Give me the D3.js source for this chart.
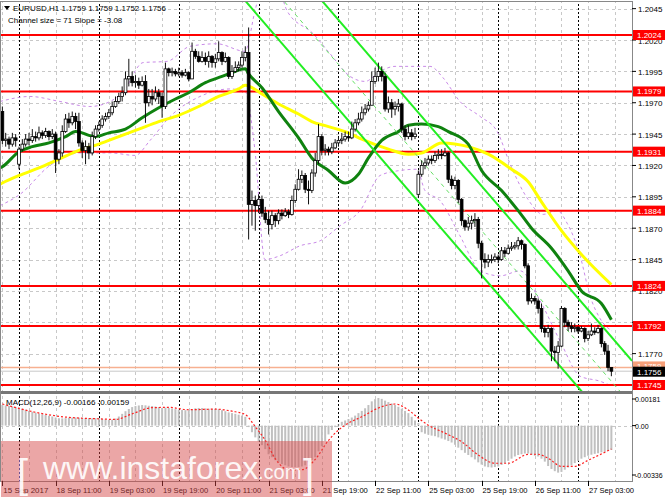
<!DOCTYPE html>
<html><head><meta charset="utf-8">
<script src="https://cdn.jsdelivr.net/npm/d3@7"></script>
<style>body{margin:0;background:#fff}svg{display:block}text{font-family:"Liberation Sans",Arial,sans-serif}</style>
</head><body><svg id="c" width="665" height="499"></svg>
<script>
// ---------- DATA ----------
const openP=[1.1963,1.1940,1.1941,1.1937,1.1942,1.1921,1.1933,1.1937,1.1941,1.1940,1.1943,1.1942,1.1946,1.1944,1.1947,1.1943,1.1945,1.1925,1.1930,1.1947,1.1957,1.1954,1.1959,1.1955,1.1938,1.1932,1.1935,1.1930,1.1943,1.1949,1.1952,1.1957,1.1959,1.1962,1.1967,1.1971,1.1975,1.1978,1.1989,1.1991,1.1986,1.1987,1.1984,1.1987,1.1970,1.1975,1.1973,1.1978,1.1975,1.1967,1.1997,1.1994,1.1995,1.1993,1.1994,1.1992,1.1994,1.1989,1.2011,1.2007,1.2003,1.2006,1.2003,1.2007,1.2002,1.2005,1.2010,1.2003,1.2006,1.1991,1.1995,1.1998,1.2000,1.2006,1.2010,1.1889,1.1892,1.1888,1.1893,1.1882,1.1877,1.1873,1.1880,1.1876,1.1882,1.1880,1.1883,1.1881,1.1892,1.1901,1.1909,1.1912,1.1901,1.1900,1.1914,1.1924,1.1943,1.1932,1.1933,1.1931,1.1934,1.1938,1.1940,1.1941,1.1943,1.1942,1.1949,1.1954,1.1957,1.1962,1.1965,1.1968,1.1987,1.1991,1.1995,1.1991,1.1965,1.1970,1.1965,1.1967,1.1969,1.1949,1.1943,1.1946,1.1943,1.1897,1.1913,1.1920,1.1922,1.1925,1.1924,1.1928,1.1929,1.1928,1.1930,1.1909,1.1904,1.1908,1.1893,1.1876,1.1871,1.1874,1.1876,1.1877,1.1858,1.1845,1.1843,1.1845,1.1845,1.1847,1.1845,1.1852,1.1850,1.1854,1.1855,1.1856,1.1860,1.1857,1.1840,1.1812,1.1814,1.1812,1.1806,1.1790,1.1787,1.1790,1.1772,1.1771,1.1776,1.1806,1.1795,1.1792,1.1790,1.1791,1.1788,1.1790,1.1782,1.1785,1.1788,1.1787,1.1790,1.1778,1.1772,1.1759];
const highP=[1.1967,1.1946,1.1943,1.1946,1.1945,1.1935,1.1941,1.1945,1.1946,1.1949,1.1947,1.1951,1.1948,1.1950,1.1948,1.1949,1.1947,1.1933,1.1952,1.1961,1.1962,1.1963,1.1962,1.1962,1.1940,1.1940,1.1938,1.1947,1.1952,1.1955,1.1960,1.1962,1.1965,1.1971,1.1975,1.1978,1.1983,1.1995,1.2005,1.1995,1.1992,1.1990,1.1991,1.1992,1.1981,1.1981,1.1983,1.1981,1.1978,1.2002,1.1998,1.1998,1.1997,1.1998,1.1996,1.1997,1.1995,1.2018,1.2013,1.2011,1.2011,1.2010,1.2011,1.2008,1.2009,1.2019,1.2011,1.2010,1.2007,1.2000,1.2003,1.2003,1.2011,1.2015,1.2030,1.1900,1.1896,1.1897,1.1896,1.1887,1.1884,1.1884,1.1882,1.1885,1.1885,1.1886,1.1885,1.1896,1.1905,1.1917,1.1916,1.1914,1.1908,1.1917,1.1930,1.1953,1.1945,1.1937,1.1935,1.1938,1.1941,1.1943,1.1946,1.1947,1.1947,1.1955,1.1957,1.1962,1.1967,1.1969,1.1971,1.1995,1.1998,1.2002,1.1999,1.1994,1.1975,1.1973,1.1971,1.1973,1.1970,1.1952,1.1952,1.1949,1.1950,1.1916,1.1924,1.1926,1.1928,1.1928,1.1931,1.1933,1.1933,1.1934,1.1931,1.1912,1.1911,1.1909,1.1894,1.1877,1.1879,1.1880,1.1882,1.1879,1.1860,1.1850,1.1849,1.1849,1.1850,1.1849,1.1855,1.1855,1.1857,1.1859,1.1859,1.1863,1.1861,1.1858,1.1842,1.1818,1.1816,1.1814,1.1810,1.1792,1.1793,1.1791,1.1776,1.1780,1.1808,1.1807,1.1797,1.1795,1.1794,1.1792,1.1792,1.1791,1.1788,1.1794,1.1791,1.1793,1.1791,1.1780,1.1777,1.1759];
const lowP=[1.1937,1.1935,1.1933,1.1935,1.1935,1.1917,1.1931,1.1935,1.1936,1.1938,1.1939,1.1940,1.1941,1.1942,1.1940,1.1941,1.1914,1.1921,1.1927,1.1946,1.1950,1.1952,1.1949,1.1935,1.1926,1.1921,1.1925,1.1928,1.1941,1.1947,1.1950,1.1955,1.1957,1.1960,1.1966,1.1969,1.1971,1.1976,1.1983,1.1983,1.1982,1.1981,1.1983,1.1954,1.1967,1.1968,1.1971,1.1969,1.1958,1.1965,1.1991,1.1991,1.1991,1.1991,1.1990,1.1991,1.1987,1.1989,1.2005,1.2002,1.2002,1.2000,1.1998,1.1998,1.1998,1.2003,1.2000,1.2002,1.1989,1.1989,1.1994,1.1995,1.1998,1.2003,1.1861,1.1872,1.1868,1.1882,1.1879,1.1874,1.1865,1.1869,1.1871,1.1873,1.1877,1.1879,1.1878,1.1880,1.1890,1.1900,1.1906,1.1898,1.1889,1.1898,1.1911,1.1921,1.1928,1.1928,1.1928,1.1929,1.1933,1.1935,1.1937,1.1939,1.1939,1.1941,1.1947,1.1952,1.1955,1.1960,1.1963,1.1968,1.1985,1.1987,1.1987,1.1963,1.1962,1.1958,1.1960,1.1963,1.1946,1.1940,1.1941,1.1940,1.1941,1.1894,1.1911,1.1917,1.1920,1.1921,1.1922,1.1925,1.1925,1.1927,1.1906,1.1901,1.1901,1.1890,1.1872,1.1868,1.1868,1.1869,1.1871,1.1854,1.1830,1.1838,1.1839,1.1842,1.1843,1.1842,1.1844,1.1847,1.1849,1.1852,1.1853,1.1853,1.1853,1.1838,1.1809,1.1810,1.1809,1.1802,1.1787,1.1783,1.1783,1.1764,1.1764,1.1758,1.1775,1.1791,1.1788,1.1787,1.1787,1.1786,1.1787,1.1779,1.1780,1.1784,1.1785,1.1786,1.1775,1.1769,1.1756,1.1752];
const closeP=[1.1940,1.1941,1.1937,1.1942,1.1940,1.1933,1.1937,1.1941,1.1940,1.1943,1.1942,1.1946,1.1944,1.1947,1.1943,1.1945,1.1925,1.1930,1.1947,1.1957,1.1954,1.1959,1.1955,1.1938,1.1932,1.1935,1.1930,1.1943,1.1949,1.1952,1.1957,1.1959,1.1962,1.1967,1.1971,1.1975,1.1978,1.1989,1.1991,1.1986,1.1987,1.1984,1.1987,1.1970,1.1975,1.1973,1.1978,1.1975,1.1967,1.1997,1.1994,1.1995,1.1993,1.1994,1.1992,1.1994,1.1989,1.2011,1.2007,1.2003,1.2006,1.2003,1.2007,1.2002,1.2005,1.2010,1.2003,1.2006,1.1991,1.1995,1.1998,1.2000,1.2006,1.2010,1.1889,1.1892,1.1888,1.1893,1.1882,1.1877,1.1873,1.1880,1.1876,1.1882,1.1880,1.1883,1.1881,1.1892,1.1901,1.1909,1.1912,1.1901,1.1900,1.1914,1.1924,1.1943,1.1932,1.1933,1.1931,1.1934,1.1938,1.1940,1.1941,1.1943,1.1942,1.1949,1.1954,1.1957,1.1962,1.1965,1.1968,1.1987,1.1991,1.1995,1.1991,1.1965,1.1970,1.1965,1.1967,1.1969,1.1949,1.1943,1.1946,1.1943,1.1945,1.1913,1.1920,1.1922,1.1925,1.1924,1.1928,1.1929,1.1928,1.1930,1.1909,1.1904,1.1908,1.1893,1.1876,1.1871,1.1874,1.1876,1.1877,1.1858,1.1845,1.1843,1.1845,1.1845,1.1847,1.1845,1.1852,1.1850,1.1854,1.1855,1.1856,1.1860,1.1857,1.1840,1.1812,1.1814,1.1812,1.1806,1.1790,1.1787,1.1790,1.1772,1.1771,1.1776,1.1806,1.1795,1.1792,1.1790,1.1791,1.1788,1.1790,1.1782,1.1785,1.1788,1.1787,1.1790,1.1778,1.1772,1.1759,1.1756];

// moving averages: [bar index, value]
const maGreen=[[-0.7,1.1918],[0,1.1919],[5,1.1931],[9,1.1935],[14,1.1938],[19,1.1943],[22,1.1947],[24,1.1946],[26,1.1944],[28,1.1943],[32,1.1946],[37,1.1949],[42,1.1958],[47,1.1966],[52,1.1973],[56,1.1978],[61,1.1986],[66,1.1991],[69,1.1994],[73,1.1997],[74,1.1993],[78,1.1982],[83,1.1963],[89,1.1942],[93,1.1926],[98,1.1916],[103,1.1906],[107,1.1913],[110,1.1926],[114,1.1940],[119,1.1947],[122,1.1952],[126,1.1953],[131,1.1951],[134,1.1947],[140,1.1937],[144,1.1916],[150,1.1900],[155,1.1884],[159,1.1870],[165,1.1854],[170,1.1836],[174,1.1820],[180,1.1810],[183,1.1797]];
const maYellow=[[-0.7,1.1905],[0,1.1906],[5,1.1912],[11,1.1918],[17,1.1925],[23,1.1932],[29,1.1937],[35,1.1943],[41,1.1949],[47,1.1955],[53,1.1960],[59,1.1967],[65,1.1975],[71,1.1981],[73,1.1984],[78,1.1977],[83,1.1969],[89,1.1961],[93,1.1955],[98,1.1951],[104,1.1946],[108,1.1941],[116,1.1933],[122,1.1929],[126,1.1930],[132,1.1938],[140,1.1935],[146,1.1929],[153,1.1917],[158,1.1907],[162,1.1891],[168,1.1868],[174,1.1849],[183,1.1825]];
const bandUpper=[[-0.7,1.1971],[8.3,1.1975],[17.3,1.1971],[26.3,1.1967],[32.4,1.1971],[36.3,1.1979],[42.3,1.2002],[49.5,1.2003],[56.4,1.2015],[64.5,1.2017],[72.9,1.2011],[75.9,1.2043],[78.9,1.2071],[83.4,1.2059],[85.6,1.2043],[93.4,1.2025],[98.5,1.2009],[104.5,1.1991],[109,1.1987],[113.5,1.1995],[118,1.1999],[128.5,1.1999],[132.4,1.1990],[137.5,1.1971],[143.6,1.1959],[148.7,1.1947],[152.6,1.1921],[157.7,1.1894],[162.5,1.1881],[166.7,1.1884],[169.7,1.1874],[173.6,1.1848],[176.6,1.1816],[179.6,1.1798],[183.2,1.1788]];
const bandLower=[[-0.7,1.1888],[5.3,1.1897],[14.3,1.1920],[23.3,1.1930],[32.4,1.1930],[39.9,1.1928],[44.4,1.1940],[50.4,1.1959],[59.4,1.1975],[68.4,1.1981],[72.9,1.1979],[75.9,1.1932],[78.9,1.1845],[83.4,1.1848],[89.5,1.1856],[95.5,1.1860],[101.5,1.1872],[107.5,1.1884],[113.5,1.1912],[119.5,1.1916],[124.6,1.1917],[127,1.1900],[131.5,1.1892],[137.5,1.1864],[143.6,1.1836],[149.6,1.1832],[155.6,1.1836],[161.6,1.1812],[167.6,1.1780],[173.6,1.1752],[179.6,1.1748],[183.2,1.1744]];

// regression channel
const chanAnchorBar=96.1, chanAnchorPrice=1.20511, chanSlope=-0.000308, chanSize=0.0071;

const levels=[1.2024,1.1979,1.1931,1.1884,1.1824,1.1792,1.1745];
const priceTicks=[1.2045,1.2020,1.1995,1.1970,1.1945,1.1920,1.1895,1.1870,1.1845,1.1820,1.1795,1.1770];
const bidPrice=1.1756, askPrice=1.1759;
const timeTickIdx=[0,16,32,48,64,80,96,112,128,144,160,176];
const timeTickLabels=["15 Sep 2017","18 Sep 11:00","19 Sep 03:00","19 Sep 19:00","20 Sep 11:00","21 Sep 03:00","21 Sep 19:00","22 Sep 11:00","25 Sep 03:00","25 Sep 19:00","26 Sep 11:00","27 Sep 03:00"];
const daySepIdx=[5,29,53,77,101,125,149,173];

const macdHist=[0.00140,0.00137,0.00134,0.00130,0.00127,0.00122,0.00115,0.00108,
0.00100,0.00094,0.00088,0.00082,0.00077,0.00072,0.00067,0.00062,
0.00055,0.00050,0.00049,0.00051,0.00053,0.00054,0.00055,0.00054,
0.00053,0.00050,0.00051,0.00049,0.00050,0.00051,0.00046,0.00041,
0.00038,0.00040,0.00048,0.00062,0.00080,0.00098,0.00113,0.00126,
0.00133,0.00137,0.00140,0.00138,0.00135,0.00133,0.00130,0.00126,
0.00120,0.00122,0.00120,0.00116,0.00112,0.00108,0.00106,0.00105,
0.00104,0.00110,0.00118,0.00120,0.00119,0.00117,0.00115,0.00114,
0.00113,0.00112,0.00105,0.00098,0.00090,0.00085,0.00080,0.00074,
0.00068,0.00060,-0.00010,-0.00045,-0.00080,-0.00108,-0.00133,-0.00160,
-0.00195,-0.00215,-0.00235,-0.00250,-0.00262,-0.00270,-0.00278,-0.00282,
-0.00283,-0.00282,-0.00278,-0.00270,-0.00250,-0.00235,-0.00215,-0.00175,
-0.00140,-0.00105,-0.00060,-0.00030,-0.00010,0.00008,0.00026,0.00035,
0.00045,0.00055,0.00068,0.00085,0.00100,0.00118,0.00140,0.00165,
0.00180,0.00188,0.00182,0.00170,0.00160,0.00150,0.00140,0.00128,
0.00115,0.00100,0.00085,0.00060,0.00035,0.00017,-0.00045,-0.00055,
-0.00062,-0.00068,-0.00072,-0.00080,-0.00088,-0.00095,-0.00105,-0.00115,
-0.00130,-0.00150,-0.00167,-0.00185,-0.00200,-0.00215,-0.00230,-0.00250,
-0.00265,-0.00278,-0.00283,-0.00285,-0.00282,-0.00278,-0.00268,-0.00255,
-0.00240,-0.00225,-0.00210,-0.00200,-0.00195,-0.00190,-0.00190,-0.00200,
-0.00205,-0.00210,-0.00225,-0.00245,-0.00275,-0.00295,-0.00310,-0.00320,
-0.00315,-0.00300,-0.00285,-0.00270,-0.00255,-0.00240,-0.00225,-0.00215,
-0.00205,-0.00198,-0.00192,-0.00188,-0.00182,-0.00178,-0.00172,-0.00166];
const macdSignal=[[0,0.00147],[9,0.00095],[19,0.00058],[29,0.00046],[34,0.00042],[39,0.00080],[45,0.00122],[50,0.00124],[56,0.00108],[64,0.00112],[69,0.00098],[73,0.00075],[76,-0.00008],[79,-0.00100],[82,-0.00225],[86,-0.00300],[90,-0.00300],[94,-0.00230],[98,-0.00100],[101,-0.00030],[104,0.00017],[108,0.00060],[113,0.00120],[118,0.00147],[122,0.00106],[125,0.00051],[128,0.00003],[133,-0.00051],[138,-0.00110],[143,-0.00200],[148,-0.00256],[152,-0.00256],[158,-0.00195],[161,-0.00195],[164,-0.00222],[168,-0.00277],[172,-0.00277],[176,-0.00236],[183,-0.00159]];
const macdTicks=[0.00181,0,-0.00336];
const macdTickLabels=["0.00181","0.00","-0.00336"];

// ---------- DRAW ----------
const svg=d3.select("#c");
const plotR=632, mainT=2, mainB=391, macdT=394, macdB=481;
const x=d3.scaleLinear().domain([-0.71,189.2]).range([0,plotR]);
const y=d3.scaleLinear().domain([1.1745,1.2024]).range([385,35]);
const ym=d3.scaleLinear().domain([-0.00336,0.00181]).range([475,399]);

svg.append("rect").attr("width",665).attr("height",499).attr("fill","#fff");
const defs=svg.append("defs");
defs.append("clipPath").attr("id","cm").append("rect").attr("x",0).attr("y",mainT).attr("width",plotR).attr("height",mainB-mainT);
defs.append("clipPath").attr("id","cd").append("rect").attr("x",0).attr("y",macdT).attr("width",plotR).attr("height",macdB-macdT);

const gM=svg.append("g").attr("clip-path","url(#cm)");
const gD=svg.append("g").attr("clip-path","url(#cd)");

// grid
const gridIdx=d3.range(0,190,8);
[gM,gD].forEach(g=>{
  g.selectAll(null).data(gridIdx).join("line").attr("x1",d=>Math.round(x(d))+0.5).attr("x2",d=>Math.round(x(d))+0.5)
   .attr("y1",0).attr("y2",499).attr("stroke","#c8c8c8").attr("stroke-dasharray","3,3");
});
gM.selectAll(null).data(priceTicks).join("line").attr("x1",0).attr("x2",plotR)
  .attr("y1",d=>Math.round(y(d))+0.5).attr("y2",d=>Math.round(y(d))+0.5).attr("stroke","#c8c8c8").attr("stroke-dasharray","3,3");
gD.append("line").attr("x1",0).attr("x2",plotR).attr("y1",Math.round(ym(0))+0.5).attr("y2",Math.round(ym(0))+0.5)
  .attr("stroke","#c8c8c8").attr("stroke-dasharray","3,3");
// day separators
[gM,gD].forEach(g=>{
  g.selectAll(null).data(daySepIdx).join("line").attr("x1",d=>Math.round(x(d))+0.5).attr("x2",d=>Math.round(x(d))+0.5)
   .attr("y1",0).attr("y2",499).attr("stroke","#000").attr("stroke-width",1).attr("stroke-dasharray","2,2");
});

// bands
const lineI=d3.line().x(d=>x(d[0])).y(d=>y(d[1])).curve(d3.curveMonotoneX);
[bandUpper,bandLower].forEach(b=>gM.append("path").attr("d",lineI(b)).attr("fill","none")
  .attr("stroke","#c98ae8").attr("stroke-width",1).attr("stroke-dasharray","3,3"));

// levels
gM.selectAll(null).data(levels).join("line").attr("x1",0).attr("x2",plotR)
  .attr("y1",d=>y(d)).attr("y2",d=>y(d)).attr("stroke","#ff0000").attr("stroke-width",2);

// bid/ask
gM.append("line").attr("x1",0).attr("x2",plotR).attr("y1",y(askPrice)).attr("y2",y(askPrice)).attr("stroke","#f7b090").attr("stroke-width",1.5);
gM.append("line").attr("x1",0).attr("x2",plotR).attr("y1",y(bidPrice)).attr("y2",y(bidPrice)).attr("stroke","#c8c8c8").attr("stroke-width",1);

// MAs
gM.append("path").attr("d",lineI(maYellow)).attr("fill","none").attr("stroke","#ffff00").attr("stroke-width",3);
gM.append("path").attr("d",lineI(maGreen)).attr("fill","none").attr("stroke","#0f820f").attr("stroke-width",3);

// channel
const chan=(i,off)=>chanAnchorPrice+chanSlope*(i-chanAnchorBar)-off;
const cI=[55,189.2];
[[0,"#22ee22",2,null],[chanSize/2,"#66e066",1,"4,4"],[chanSize,"#22ee22",2,null]].forEach(([off,col,w,da])=>{
  const p=gM.append("line").attr("x1",x(cI[0])).attr("x2",x(cI[1])).attr("y1",y(chan(cI[0],off))).attr("y2",y(chan(cI[1],off)))
    .attr("stroke",col).attr("stroke-width",w);
  if(da)p.attr("stroke-dasharray",da);
});

// candles
const bars=d3.range(closeP.length);
const bw=2.8;
gM.selectAll(null).data(bars).join("line").attr("x1",i=>x(i)).attr("x2",i=>x(i))
  .attr("y1",i=>y(highP[i])).attr("y2",i=>y(lowP[i])).attr("stroke","#111").attr("stroke-width",1);
gM.selectAll(null).data(bars).join("rect").attr("x",i=>x(i)-bw/2).attr("width",bw)
  .attr("y",i=>y(Math.max(openP[i],closeP[i]))).attr("height",i=>Math.max(1,Math.abs(y(openP[i])-y(closeP[i]))))
  .attr("fill",i=>closeP[i]>=openP[i]?"#fff":"#000").attr("stroke","#000").attr("stroke-width",0.8);

// MACD
gD.selectAll(null).data(bars).join("rect").attr("x",i=>x(i)-1).attr("width",2)
  .attr("y",i=>Math.min(ym(0),ym(macdHist[i]))).attr("height",i=>Math.abs(ym(macdHist[i])-ym(0)))
  .attr("fill","#c0c0c0");
gD.append("path").attr("d",d3.line().x(d=>x(d[0])).y(d=>ym(d[1])).curve(d3.curveMonotoneX)(macdSignal))
  .attr("fill","none").attr("stroke","#ff2020").attr("stroke-width",1.2).attr("stroke-dasharray","2,2");

// frames
const fc="#888";
svg.append("rect").attr("x",0).attr("y",mainB).attr("width",plotR+1).attr("height",3).attr("fill","#777");
svg.append("line").attr("x1",0).attr("x2",plotR).attr("y1",mainT-0.5).attr("y2",mainT-0.5).attr("stroke",fc);
svg.append("line").attr("x1",0).attr("x2",plotR).attr("y1",macdB+0.5).attr("y2",macdB+0.5).attr("stroke",fc);
svg.append("line").attr("x1",plotR+0.5).attr("x2",plotR+0.5).attr("y1",mainT-1).attr("y2",macdB+1).attr("stroke",fc);
svg.append("line").attr("x1",0.5).attr("x2",0.5).attr("y1",mainT-1).attr("y2",macdB+1).attr("stroke",fc);

// price axis
const fs=8;
svg.selectAll(null).data(priceTicks).join("line").attr("x1",plotR).attr("x2",plotR+4).attr("y1",d=>y(d)).attr("y2",d=>y(d)).attr("stroke","#000");
svg.selectAll(null).data(priceTicks).join("text").attr("x",638).attr("y",d=>y(d)+3.5).attr("font-size",fs).attr("fill","#000").text(d=>d.toFixed(4));
// level labels
levels.forEach(v=>{
  svg.append("rect").attr("x",633).attr("y",y(v)-5).attr("width",32).attr("height",10).attr("fill","#ff0000");
  svg.append("text").attr("x",637).attr("y",y(v)+3).attr("font-size",fs).attr("fill","#fff").text(v.toFixed(4));
});
svg.append("rect").attr("x",633).attr("y",y(askPrice)-6).attr("width",32).attr("height",10).attr("fill","#f7a07a");
svg.append("text").attr("x",637).attr("y",y(askPrice)+2).attr("font-size",fs).attr("fill","#fff").text(askPrice.toFixed(4));
svg.append("rect").attr("x",633).attr("y",y(bidPrice)-4.5).attr("width",32).attr("height",10).attr("fill","#000");
svg.append("text").attr("x",637).attr("y",y(bidPrice)+3.5).attr("font-size",fs).attr("fill","#fff").text(bidPrice.toFixed(4));
// macd axis
svg.selectAll(null).data(macdTicks).join("line").attr("x1",plotR).attr("x2",plotR+4).attr("y1",d=>ym(d)).attr("y2",d=>ym(d)).attr("stroke","#000");
svg.selectAll(null).data(macdTicks).join("text").attr("x",635).attr("y",d=>ym(d)+3).attr("font-size",7)
  .attr("fill","#000").text((d,i)=>macdTickLabels[i]);
// time axis
svg.selectAll(null).data(timeTickIdx).join("line").attr("x1",d=>Math.round(x(d))+0.5).attr("x2",d=>Math.round(x(d))+0.5).attr("y1",macdB).attr("y2",macdB+5).attr("stroke","#000");
svg.selectAll(null).data(timeTickIdx).join("text").attr("x",d=>x(d)+1).attr("y",493).attr("font-size",fs)
  .attr("textLength",45).attr("lengthAdjust","spacingAndGlyphs").attr("fill","#000").text((d,i)=>timeTickLabels[i]);

// titles
svg.append("path").attr("d","M4,6 L10,6 L7,10 Z").attr("fill","#000");
svg.append("text").attr("x",13).attr("y",11).attr("font-size",fs).attr("fill","#000").text("EURUSD,H1  1.1759 1.1759 1.1752 1.1756");
svg.append("text").attr("x",8).attr("y",23).attr("font-size",fs).attr("fill","#000").text("Channel size = 71 Slope = -3.08");
svg.append("text").attr("x",6).attr("y",405).attr("font-size",fs).attr("fill","#000").text("MACD(12,26,9) -0.00166 -0.00159");

// watermark
svg.append("rect").attr("x",1).attr("y",441).attr("width",331).attr("height",56).attr("fill","rgb(214,70,70)").attr("opacity",0.48);
const wm=svg.append("g").attr("fill","#fff").attr("opacity",0.9);
wm.append("text").attr("x",17).attr("y",488).attr("font-size",40).text("[");
wm.append("text").attr("x",43).attr("y",479).attr("font-size",32).text("www.instaforex");
wm.append("text").attr("x",258).attr("y",479).attr("font-size",20).text(".com");
wm.append("text").attr("x",303).attr("y",488).attr("font-size",40).text("]");
</script></body></html>
